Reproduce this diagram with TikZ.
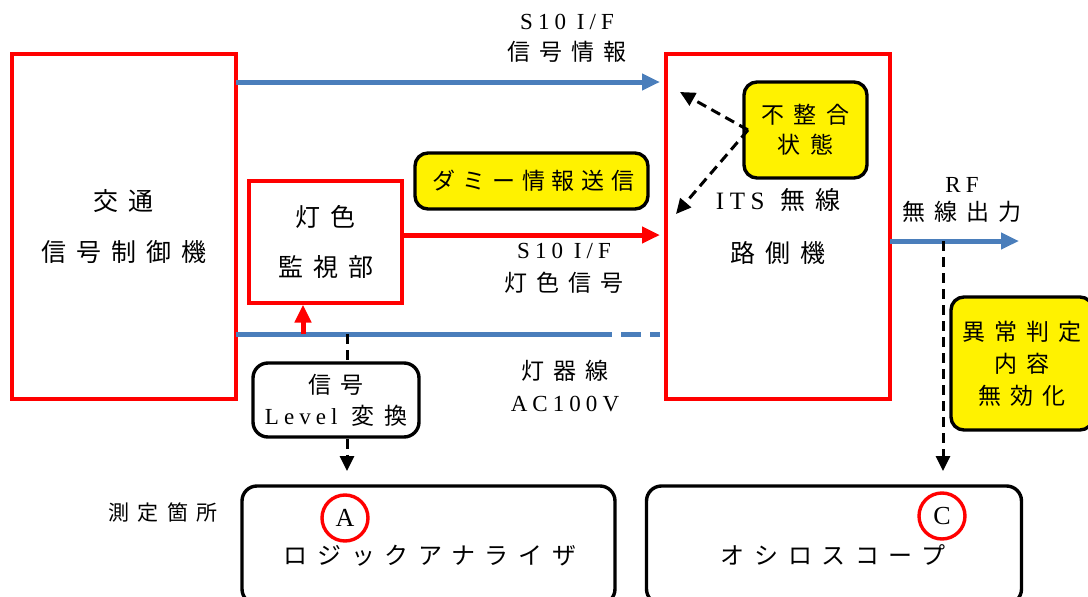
\documentclass[tikz,border=0pt]{standalone}
\usepackage{fontspec}
\setmainfont{Liberation Serif}
\newfontfamily\jp[LetterSpace=40]{Noto Sans CJK JP}
\newfontfamily\jpn[LetterSpace=30]{Noto Sans CJK JP}
\newfontfamily\lt[LetterSpace=22]{Liberation Serif}
\usetikzlibrary{arrows.meta}
\definecolor{lblue}{HTML}{4A7EBB}
\tikzset{
  redbox/.style={draw=red, line width=3.4pt, fill=white, align=center, inner sep=0pt},
  yelbox/.style={draw=black, line width=3.4pt, fill=yellow, rounded corners=13pt, align=center, inner sep=0pt},
  blkbox/.style={draw=black, line width=3.4pt, fill=white, rounded corners=15pt, align=center, inner sep=0pt},
  lbl/.style={align=center, inner sep=0pt},
  barrow/.style={draw=lblue, line width=5pt, -{Triangle[length=18pt,width=16pt]}},
  bline/.style={draw=lblue, line width=5pt},
  rarrow/.style={draw=red, line width=5pt, -{Triangle[length=18pt,width=16pt]}},
  dasharrow/.style={draw=black, line width=3pt, dash pattern=on 10pt off 6pt, -{Triangle[length=15pt,width=14pt]}},
  dashline/.style={draw=black, line width=3pt, dash pattern=on 10pt off 6pt},
  mark circle/.style={draw=red, line width=3.4pt, circle, minimum size=46pt, inner sep=0pt},
}
\begin{document}
\begin{tikzpicture}[x=1pt,y=-1pt]
\useasboundingbox (0,0) rectangle (1088,597);
\clip (0,0) rectangle (1088,597);

% main boxes
\node[redbox, minimum width=224pt, minimum height=345pt, font=\fontsize{25}{51}\selectfont\jp] (ctl) at (124,226.5) {交通\\信号制御機};
\node[redbox, minimum width=224pt, minimum height=345pt, font=\fontsize{25}{53}\selectfont\jp] (its) at (778,226.5) {{\lt ITS} 無線\\路側機};
\node[redbox, minimum width=153pt, minimum height=122pt, font=\fontsize{25}{50}\selectfont\jp] (mon) at (325.5,242) {灯色\\監視部};

% yellow boxes
\node[yelbox, minimum width=233pt, minimum height=56pt, font=\fontsize{23}{30}\selectfont\jpn] (dummy) at (531.5,181) {\hspace*{4pt}ダミー情報送信};
\node[yelbox, minimum width=123pt, minimum height=96pt, font=\fontsize{23}{30}\selectfont\jp] (mism) at (805.5,130) {不整合\\状態};
\node[yelbox, minimum width=142pt, minimum height=133pt, font=\fontsize{23}{32}\selectfont\jp] (inval) at (1022,363.5) {異常判定\\内容\\無効化};

% level converter
\node[blkbox, minimum width=166pt, minimum height=74pt, font=\fontsize{23}{31}\selectfont\jp] (lvl) at (336,400) {信号\\{\lt Level} 変換};

% measurement boxes
\node[blkbox, minimum width=373pt, minimum height=118pt] (la) at (428.5,545) {};
\node[blkbox, minimum width=375pt, minimum height=118pt] (osc) at (834,545) {};
\node[lbl, font=\fontsize{24}{25}\selectfont\jp] (latext) at (430,556) {ロジックアナライザ};
\node[lbl, font=\fontsize{24}{25}\selectfont\jp] (osctext) at (833,555) {オシロスコープ};
\node[mark circle, font=\fontsize{26}{25}\selectfont\rmfamily] (ca) at (345,518) {A};
\node[mark circle, font=\fontsize{26}{25}\selectfont\rmfamily] (cc) at (942,516) {C};
\node[lbl, font=\fontsize{21}{25}\selectfont\jp] (meas) at (163,513) {測定箇所};

% labels
\node[lbl, font=\fontsize{23}{31}\selectfont\jp] (l1) at (567,38) {{\lt S10 I/F}\\信号情報};
\node[lbl, font=\fontsize{23}{33}\selectfont\jp] (l2) at (564,268) {{\lt S10 I/F}\\灯色信号};
\node[lbl, font=\fontsize{23}{32}\selectfont\jp] (l3) at (565,386) {灯器線\\{\lt AC100V}};
\node[lbl, font=\fontsize{23}{28}\selectfont\jp] (l4) at (962,200) {{\lt RF}\\無線出力};

% coordinates
\coordinate (topL) at (236,82);
\coordinate (topR) at (660,82);
\coordinate (redR) at (660,235);
\coordinate (acL) at (236,334);
\coordinate (acM) at (592,334);
\coordinate (acR) at (660,334);
\coordinate (acUp) at (303,334);
\coordinate (acDn) at (347,334);
\coordinate (lvlEnd) at (347,471);
\coordinate (mA) at (748,130);
\coordinate (mE1) at (680,92);
\coordinate (mE2) at (676,214);
\coordinate (rfS) at (890,241);
\coordinate (rfE) at (1019,241);
\coordinate (rfD) at (943,241);
\coordinate (rfEnd) at (943,471);

% connectors
\draw[barrow] (topL) -- (topR);
\draw[rarrow] (mon.east |- redR) -- (redR);
\draw[bline] (acL) -- (acM);
\draw[bline, dash pattern=on 20pt off 9pt] (acM) -- (acR);
\draw[rarrow] (acUp) -- (mon.south -| acUp);
\draw[dashline] (acDn) -- (lvl.north -| acDn);
\draw[dasharrow] (lvl.south -| acDn) -- (lvlEnd);
\draw[dasharrow] (mA) -- (mE1);
\draw[dasharrow] (mA) -- (mE2);
\draw[barrow] (rfS) -- (rfE);
\draw[dasharrow] (rfD) -- (rfEnd);
\end{tikzpicture}
\end{document}
